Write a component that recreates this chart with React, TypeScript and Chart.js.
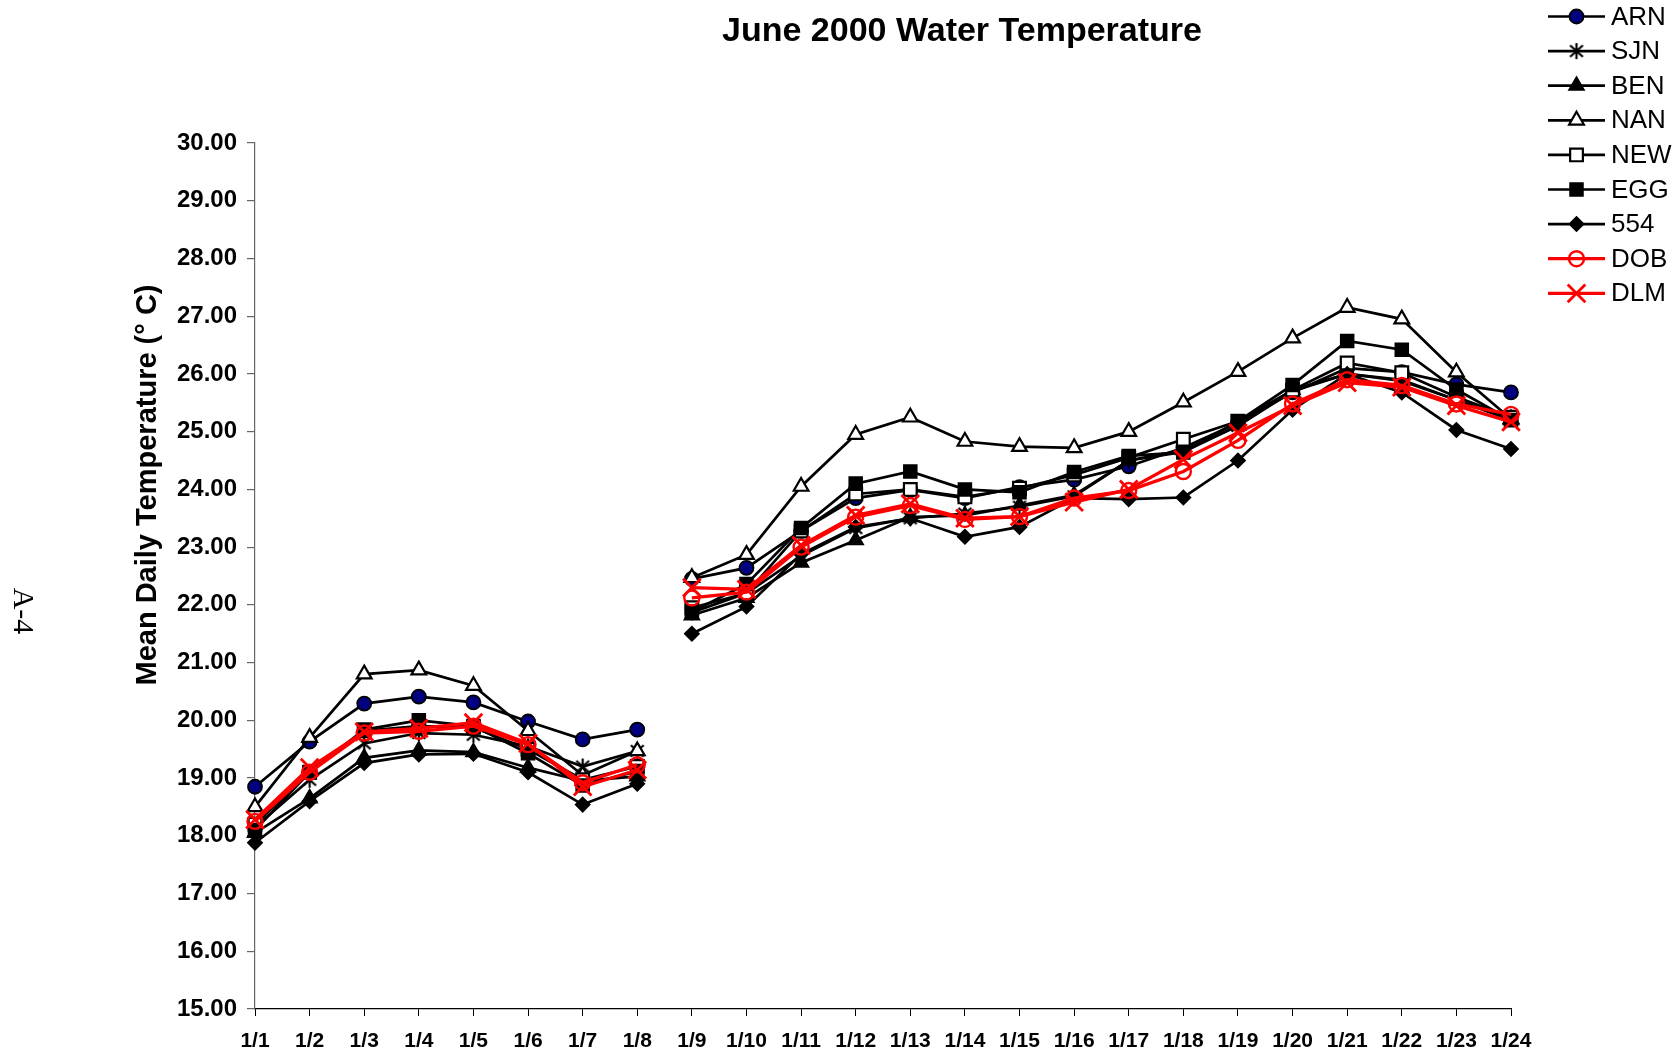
import React, { useEffect, useRef } from "react";
import { Chart, registerables } from "chart.js";
import { drawPoint } from "chart.js/helpers";

Chart.register(...registerables);

const TITLE = "June 2000 Water Temperature";
const Y_TITLE = "Mean Daily Temperature (° C)";
const PAGE_LABEL = "A-4";

const categories = [
  "1/1", "1/2", "1/3", "1/4", "1/5", "1/6", "1/7", "1/8", "1/9", "1/10", "1/11", "1/12",
  "1/13", "1/14", "1/15", "1/16", "1/17", "1/18", "1/19", "1/20", "1/21", "1/22", "1/23", "1/24",
];

const ARN = [18.85, 19.63, 20.29, 20.41, 20.31, 19.98, 19.67, 19.84, 22.45, 22.64, 23.28, 23.85, 23.99, 23.85, 24.04, 24.17, 24.4, 24.72, 25.15, 25.68, 26.1, 26.03, 25.82, 25.68];
const SJN = [18.15, 18.97, 19.6, 19.78, 19.75, 19.55, 19.2, 19.47, 21.87, 22.2, 22.85, 23.33, 23.5, 23.58, 23.7, 23.88, 24.5, 24.65, 25.1, 25.7, 26.0, 25.9, 25.55, 25.22];
const BEN = [18.05, 18.65, 19.35, 19.48, 19.45, 19.18, 18.95, 19.03, 21.82, 22.12, 22.73, 23.12, 23.52, 23.55, 23.72, 23.9, 24.5, 24.68, 25.1, 25.72, 26.0, 25.88, 25.55, 25.2];
const NAN = [18.5, 19.7, 20.8, 20.87, 20.6, 19.82, 19.05, 19.47, 22.47, 22.87, 24.05, 24.95, 25.25, 24.83, 24.74, 24.72, 25.0, 25.51, 26.04, 26.62, 27.15, 26.95, 26.03, 25.22];
const NEW = [18.2, 19.1, 19.82, 19.9, 19.88, 19.5, 18.97, 19.2, 21.95, 22.2, 23.28, 23.92, 24.0, 23.87, 24.02, 24.25, 24.55, 24.87, 25.18, 25.72, 26.19, 26.02, 25.6, 25.25];
const EGG = [18.1, 19.1, 19.84, 20.0, 19.9, 19.43, 18.87, 19.12, 21.88, 22.36, 23.33, 24.1, 24.31, 24.0, 23.95, 24.3, 24.58, 24.64, 25.18, 25.81, 26.57, 26.42, 25.73, 25.2];
const S554 = [17.88, 18.6, 19.26, 19.41, 19.42, 19.1, 18.54, 18.9, 21.5, 21.97, 22.88, 23.35, 23.5, 23.18, 23.35, 23.85, 23.83, 23.86, 24.5, 25.38, 26.0, 25.68, 25.03, 24.7];
const DOB = [18.25, 19.1, 19.78, 19.81, 19.9, 19.58, 18.92, 19.23, 22.12, 22.22, 23.0, 23.52, 23.72, 23.48, 23.53, 23.85, 23.98, 24.31, 24.85, 25.48, 25.9, 25.8, 25.48, 25.3];
const DLM = [18.28, 19.18, 19.8, 19.86, 19.96, 19.6, 18.85, 19.14, 22.3, 22.27, 23.03, 23.55, 23.75, 23.5, 23.53, 23.78, 24.0, 24.52, 24.98, 25.45, 25.85, 25.77, 25.45, 25.17];

const Y_MIN = 15;
const Y_MAX = 30;
const Y_STEP = 1;
const GAP_AFTER_INDEX = 7; // no line between 1/8 and 1/9

const FONT = '"Liberation Sans", Arial, sans-serif';

function makeAsterisk(): HTMLCanvasElement {
  const c = document.createElement("canvas");
  c.width = 20;
  c.height = 20;
  const g = c.getContext("2d")!;
  g.strokeStyle = "#000";
  g.lineWidth = 2.2;
  g.lineCap = "butt";
  g.beginPath();
  g.moveTo(10, 2); g.lineTo(10, 18);
  g.moveTo(3.6, 4.2); g.lineTo(16.4, 15.8);
  g.moveTo(16.4, 4.2); g.lineTo(3.6, 15.8);
  g.stroke();
  return c;
}

export default function App() {
  const ref = useRef<HTMLCanvasElement | null>(null);

  useEffect(() => {
    if (!ref.current) return;
    const asterisk = makeAsterisk();
    const gapSeg = {
      borderColor: (c: any) => (c.p0DataIndex === GAP_AFTER_INDEX ? "rgba(0,0,0,0)" : undefined),
    };
    const mk = (label: string, data: number[], color: string, style: any, radius: number, bg: string, bw: number, lw: number) => ({
      label,
      data,
      borderColor: color,
      borderWidth: lw,
      pointStyle: style,
      pointRadius: radius,
      pointHoverRadius: radius,
      pointBackgroundColor: bg,
      pointBorderColor: color,
      pointBorderWidth: bw,
      tension: 0,
      fill: false,
      segment: gapSeg,
    });
    const datasets: any[] = [
      mk("ARN", ARN, "#000", "circle", 7, "#000080", 1.8, 2.7),
      mk("SJN", SJN, "#000", asterisk, 8, "#000", 2, 2.7),
      mk("BEN", BEN, "#000", "triangle", 8.5, "#000", 1.8, 2.7),
      mk("NAN", NAN, "#000", "triangle", 8.5, "#fff", 2.2, 2.7),
      mk("NEW", NEW, "#000", "rect", 9, "#fff", 2.2, 2.7),
      mk("EGG", EGG, "#000", "rect", 9, "#000", 1.8, 2.7),
      mk("554", S554, "#000", "rectRot", 7, "#000", 1.8, 2.7),
      mk("DOB", DOB, "#ff0000", "circle", 7.5, "rgba(0,0,0,0)", 2.4, 3.3),
      mk("DLM", DLM, "#ff0000", "crossRot", 12.5, "#ff0000", 2.8, 3.3),
    ];
    datasets.forEach((d, i) => (d.order = datasets.length - i));

    const textPlugin = {
      id: "texts",
      afterDraw(chart: any) {
        const ctx = chart.ctx as CanvasRenderingContext2D;
        ctx.save();
        ctx.fillStyle = "#000";
        ctx.textAlign = "center";
        ctx.textBaseline = "middle";
        ctx.font = `bold 34px ${FONT}`;
        ctx.fillText(TITLE, 962, 32);

        ctx.save();
        ctx.translate(148, 485);
        ctx.rotate(-Math.PI / 2);
        ctx.font = `bold 29px ${FONT}`;
        ctx.fillText(Y_TITLE, 0, 0);
        ctx.restore();

        ctx.save();
        ctx.translate(22, 611);
        ctx.rotate(Math.PI / 2);
        ctx.font = `30px "Liberation Serif", "Times New Roman", serif`;
        ctx.fillText(PAGE_LABEL, 0, 0);
        ctx.restore();

        // legend
        const x0 = 1548, x1 = 1605, xm = 1576.5, tx = 1611;
        chart.data.datasets.forEach((d: any, i: number) => {
          const y = 16.5 + i * 34.6;
          ctx.strokeStyle = d.borderColor;
          ctx.lineWidth = d.borderWidth;
          ctx.beginPath();
          ctx.moveTo(x0, y);
          ctx.lineTo(x1, y);
          ctx.stroke();
          ctx.fillStyle = d.pointBackgroundColor;
          ctx.strokeStyle = d.pointBorderColor;
          ctx.lineWidth = d.pointBorderWidth;
          drawPoint(ctx, { pointStyle: d.pointStyle, radius: d.pointRadius, rotation: 0, borderWidth: d.pointBorderWidth } as any, xm, y);
          ctx.fillStyle = "#000";
          ctx.textAlign = "left";
          ctx.textBaseline = "middle";
          ctx.font = `26px ${FONT}`;
          ctx.fillText(d.label, tx, y + 1);
        });
        ctx.restore();
      },
    };

    const chart = new Chart(ref.current, {
      type: "line",
      data: { labels: categories, datasets },
      options: {
        animation: false,
        responsive: false,
        maintainAspectRatio: false,
        devicePixelRatio: 1,
        layout: { padding: { left: 0, top: 143, right: 167, bottom: 0 } },
        plugins: { legend: { display: false }, title: { display: false }, tooltip: { enabled: false } },
        scales: {
          x: {
            type: "category",
            offset: false,
            grid: { drawOnChartArea: false, drawTicks: true, tickLength: 7, color: "#000", lineWidth: 1 },
            border: { display: true, color: "#000", width: 1.2 },
            ticks: {
              autoSkip: false,
              maxRotation: 0,
              minRotation: 0,
              padding: 13,
              color: "#000",
              font: { family: FONT, size: 21, weight: "bold" },
            },
            afterFit: (s: any) => { s.height = 47; },
          },
          y: {
            min: Y_MIN,
            max: Y_MAX,
            grid: { drawOnChartArea: false, drawTicks: true, tickLength: 8, color: "#666", lineWidth: 1.2 },
            border: { display: true, color: "#666", width: 1.2 },
            ticks: {
              stepSize: Y_STEP,
              padding: 10,
              color: "#000",
              font: { family: FONT, size: 24, weight: "bold" },
              callback: (v: any) => Number(v).toFixed(2),
            },
            afterFit: (s: any) => { s.width = 255; },
          },
        },
      } as any,
      plugins: [textPlugin],
    });
    return () => chart.destroy();
  }, []);

  return (
    <div style={{ position: "fixed", left: 0, top: 0, width: 1678, height: 1056, background: "#fff" }}>
      <canvas ref={ref} width={1678} height={1056} style={{ width: 1678, height: 1056, display: "block" }} />
    </div>
  );
}
